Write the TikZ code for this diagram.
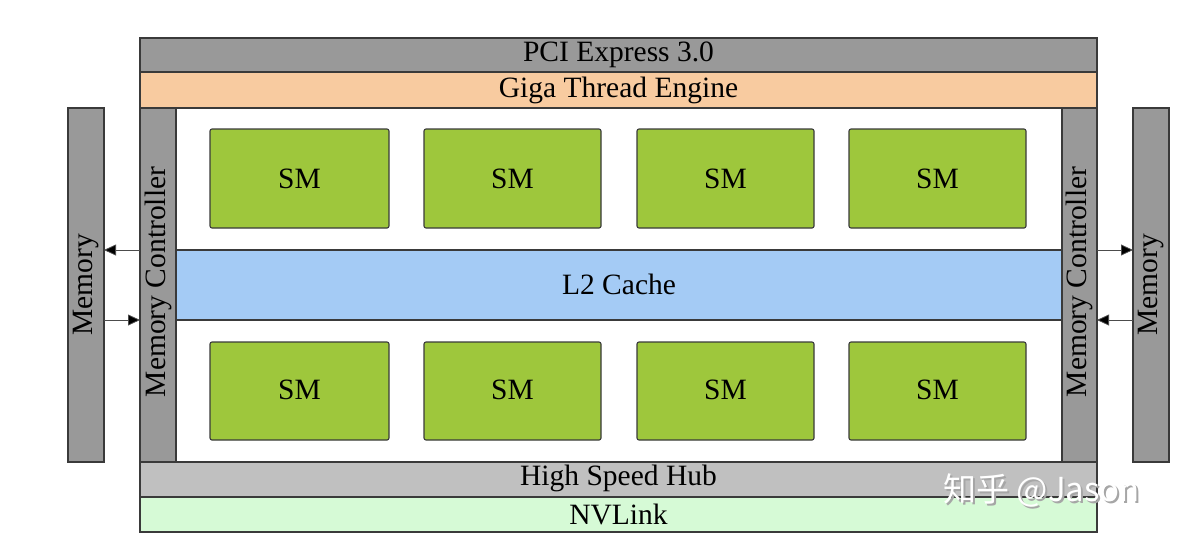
\documentclass[tikz,border=0pt]{standalone}
\usepackage{fontspec}
\setmainfont{Liberation Serif}
\newfontfamily\cjk{Noto Sans CJK SC}
\usetikzlibrary{arrows.meta}
\definecolor{pcigray}{HTML}{999999}
\definecolor{peach}{HTML}{F8CBA0}
\definecolor{smgreen}{HTML}{9EC73C}
\definecolor{l2blue}{HTML}{A4CBF5}
\definecolor{hubgray}{HTML}{C0C0C0}
\definecolor{nvgreen}{HTML}{D6FAD6}
\definecolor{edgegray}{HTML}{3A3A3A}
\tikzset{
  txt/.style={font=\fontsize{29.5}{29.5}\selectfont},
  bar/.style={draw=edgegray, line width=1.1pt, inner sep=0pt},
  smbox/.style={bar, fill=smgreen, rounded corners=2pt},
  vlabel/.style={txt, rotate=90},
  link/.style={draw=black!70, line width=0.8pt, -{Triangle[length=12pt,width=11pt,fill=black]}}
}
\begin{document}
\begin{tikzpicture}[x=1pt,y=-1pt]
\useasboundingbox (0,0) rectangle (1192,550);
% top bars
\draw[bar, fill=pcigray] (140,38) rectangle (1097,72);
\node[txt] (pci) at (618.5,55) {PCI Express 3.0};
\draw[bar, fill=peach] (140,72) rectangle (1097,108);
\node[txt] (gte) at (618.5,90) {Giga Thread Engine};
% memory controllers
\draw[bar, fill=pcigray] (140,108) rectangle (176,462);
\node[vlabel] (mcl) at (158,282) {Memory Controller};
\draw[bar, fill=pcigray] (1062,108) rectangle (1097,462);
\node[vlabel] (mcr) at (1079.5,282) {Memory Controller};
% memories
\draw[bar, fill=pcigray] (68,108) rectangle (104,462);
\node[vlabel] (meml) at (86,285) {Memory};
\draw[bar, fill=pcigray] (1133,108) rectangle (1169,462);
\node[vlabel] (memr) at (1151,285) {Memory};
% SMs
\foreach \x/\w [count=\i] in {210/389,424/601,637/814,849/1026}{
  \draw[smbox] (\x,129) rectangle (\w,228);
  \node[txt] (smt\i) at ({(\x+\w)/2},178.5) {SM};
  \draw[smbox] (\x,342) rectangle (\w,440);
  \node[txt] (smb\i) at ({(\x+\w)/2},390) {SM};
}
% L2
\draw[bar, fill=l2blue] (176,250) rectangle (1062,320);
\node[txt] (l2) at (619,284) {L2 Cache};
% bottom bars
\draw[bar, fill=hubgray] (140,462) rectangle (1097,497);
\node[txt] (hub) at (618.5,478.5) {High Speed Hub};
\draw[bar, fill=nvgreen] (140,497) rectangle (1097,532);
\node[txt] (nv) at (618.5,514) {NVLink};
% arrows
\coordinate (aL1) at (140,250); \coordinate (bL1) at (104,250);
\coordinate (aL2) at (104,320); \coordinate (bL2) at (140,320);
\coordinate (aR1) at (1097,250); \coordinate (bR1) at (1133,250);
\coordinate (aR2) at (1133,320); \coordinate (bR2) at (1097,320);
\draw[link] (aL1) -- (bL1);
\draw[link] (aL2) -- (bL2);
\draw[link] (aR1) -- (bR1);
\draw[link] (aR2) -- (bR2);
% watermark
\node[text=black!35, font=\cjk\fontsize{33}{33}\selectfont, anchor=west] at (942,492) {知乎 @Jason};
\node[text=white, font=\cjk\fontsize{33}{33}\selectfont, anchor=west] (wm) at (940,490) {知乎 @Jason};
\end{tikzpicture}
\end{document}
